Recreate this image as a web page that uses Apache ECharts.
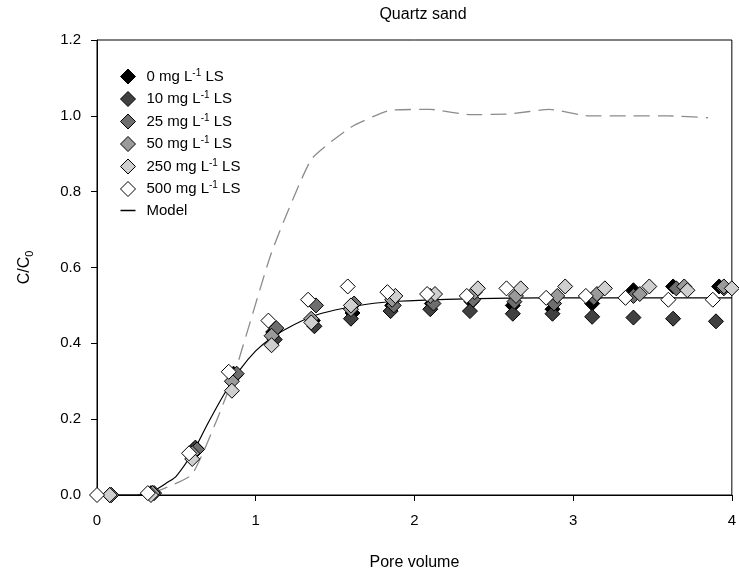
<!DOCTYPE html>
<html>
<head>
<meta charset="utf-8">
<script src="https://cdn.jsdelivr.net/npm/echarts@6/dist/echarts.min.js"></script>
<style>
  html, body { margin: 0; padding: 0; background: #fff; }
  #chart { width: 739px; height: 577px; }
</style>
</head>
<body>
<div id="chart"></div>
<script>
// Breakthrough curves of lignosulfonate (LS) in quartz sand, [pore volume, C/C0]
const ls0 = [[0.08,0],[0.34,0.005],[0.61,0.12],[0.86,0.32],[1.11,0.43],[1.36,0.46],[1.61,0.48],[1.86,0.50],[2.11,0.505],[2.36,0.51],[2.62,0.50],[2.87,0.49],[3.12,0.505],[3.38,0.54],[3.63,0.55],[3.92,0.55]];
const ls10 = [[0.08,0],[0.35,0.005],[0.62,0.125],[0.87,0.315],[1.12,0.41],[1.37,0.445],[1.60,0.465],[1.85,0.485],[2.10,0.49],[2.35,0.485],[2.62,0.478],[2.87,0.478],[3.12,0.47],[3.38,0.468],[3.63,0.465],[3.90,0.458]];
const ls25 = [[0.09,0],[0.36,0.005],[0.63,0.12],[0.88,0.32],[1.13,0.44],[1.38,0.50],[1.62,0.505],[1.87,0.50],[2.12,0.505],[2.37,0.515],[2.63,0.51],[2.88,0.505],[3.13,0.52],[3.38,0.525],[3.65,0.545],[3.95,0.545]];
const ls50 = [[0.09,0],[0.35,0.005],[0.60,0.11],[0.85,0.30],[1.10,0.42],[1.35,0.465],[1.60,0.49],[1.86,0.515],[2.10,0.525],[2.38,0.535],[2.64,0.525],[2.90,0.525],[3.15,0.53],[3.42,0.53],[3.70,0.55],[3.95,0.55]];
const ls250 = [[0.08,0],[0.34,0.0],[0.60,0.095],[0.85,0.275],[1.10,0.395],[1.35,0.455],[1.60,0.50],[1.88,0.525],[2.13,0.53],[2.40,0.545],[2.67,0.545],[2.95,0.55],[3.20,0.545],[3.48,0.55],[3.72,0.54],[4.00,0.545]];
const ls500 = [[0.00,0],[0.32,0.005],[0.58,0.11],[0.83,0.325],[1.08,0.46],[1.33,0.515],[1.58,0.55],[1.83,0.535],[2.08,0.53],[2.33,0.525],[2.58,0.545],[2.83,0.52],[3.08,0.525],[3.33,0.52],[3.60,0.515],[3.88,0.515]];

// Fitted model curve
const model = [[0,0],[0.25,0],[0.35,0.01],[0.45,0.035],[0.5,0.05],[0.6,0.11],[0.7,0.19],[0.8,0.265],[0.9,0.33],[1.0,0.38],[1.1,0.415],[1.2,0.44],[1.35,0.47],[1.5,0.488],[1.7,0.503],[1.9,0.511],[2.2,0.516],[2.6,0.519],[3.0,0.52],[4.0,0.52]];

// Conservative tracer (NaBr)
const tracer = [[0.35,0.005],[0.6,0.055],[0.85,0.30],[1.1,0.64],[1.35,0.885],[1.6,0.97],[1.85,1.015],[2.1,1.017],[2.35,1.003],[2.6,1.005],[2.85,1.017],[3.1,1.0],[3.35,1.0],[3.6,1.0],[3.85,0.995]];

const seriesNames = ['0 mg L-1 LS','10 mg L-1 LS','25 mg L-1 LS','50 mg L-1 LS','250 mg L-1 LS','500 mg L-1 LS'];
const seriesData = [ls0, ls10, ls25, ls50, ls250, ls500];
const fills = ['#000000','#404040','#6e6e6e','#9a9a9a','#cfcfcf','#ffffff'];
const xTicks = [0, 1, 2, 3, 4];
const yTicks = [0, 0.2, 0.4, 0.6, 0.8, 1.0, 1.2];

const FONT = '"Liberation Sans", Arial, sans-serif';

const scatterSeries = seriesData.map((d, i) => ({
  name: seriesNames[i],
  type: 'scatter',
  data: d,
  symbol: 'diamond',
  symbolSize: 15,
  itemStyle: { color: fills[i], borderColor: '#000', borderWidth: 1, opacity: 1 },
  z: 3 + i
}));

const chart = echarts.init(document.getElementById('chart'), null, { renderer: 'canvas' });

chart.setOption({
  animation: false,
  backgroundColor: '#fff',
  title: {
    text: 'Quartz sand',
    left: 418, top: 2, textAlign: 'center',
    textStyle: { fontFamily: FONT, fontSize: 16, fontWeight: 'normal', color: '#000' }
  },
  grid: {
    left: 97, right: 2, top: 40, bottom: 82,
    show: true, borderColor: '#000', borderWidth: 1, backgroundColor: 'transparent'
  },
  legend: {
    left: 115, top: 63, orient: 'vertical',
    itemWidth: 15, itemHeight: 15, itemGap: 6,
    symbolKeepAspect: true,
    data: seriesNames.map((n, i) => ({
      name: n, icon: 'diamond',
      itemStyle: { color: fills[i], borderColor: '#000', borderWidth: 1 }
    })).concat([{ name: 'Model', icon: 'path://M0,0 L12,0 L12,1.2 L0,1.2 Z', itemStyle: { color: '#000' } }]),
    formatter: function (name) {
      const m = name.match(/^(\d+ mg L)-1( LS)$/);
      if (m) return '{t|' + m[1] + '}{s|-1}{t|' + m[2] + '}';
      return '{t|' + name + '}';
    },
    textStyle: {
      fontFamily: FONT, fontSize: 15, color: '#000', padding: [0, 0, 0, 6],
      rich: {
        t: { fontFamily: FONT, fontSize: 15, color: '#000', height: 17 },
        s: { fontFamily: FONT, fontSize: 10, color: '#000', height: 17, padding: [0, 0, 7, 0] }
      }
    }
  },
  xAxis: {
    type: 'value', min: 0, max: 4, interval: 1,
    name: 'Pore volume', nameLocation: 'middle', nameGap: 60,
    nameTextStyle: { fontFamily: FONT, fontSize: 16, color: '#000' },
    axisLine: { show: true, onZero: false, lineStyle: { color: '#000', width: 1 } },
    axisTick: { show: true, inside: false, length: 6, lineStyle: { color: '#000' } },
    axisLabel: { fontFamily: FONT, fontSize: 15, color: '#000', margin: 18,
      formatter: v => (xTicks.includes(v) ? String(v) : '') },
    splitLine: { show: false }
  },
  yAxis: {
    type: 'value', min: 0, max: 1.2, interval: 0.2,
    name: '{t|C/C}{s|0}', nameLocation: 'middle', nameGap: 62, nameRotate: 90,
    nameTextStyle: {
      fontFamily: FONT, fontSize: 16, color: '#000',
      rich: {
        t: { fontFamily: FONT, fontSize: 16, color: '#000' },
        s: { fontFamily: FONT, fontSize: 11, color: '#000', padding: [9, 0, 0, 0] }
      }
    },
    axisLine: { show: true, onZero: false, lineStyle: { color: '#000', width: 1 } },
    axisTick: { show: true, inside: false, length: 6, lineStyle: { color: '#000' } },
    axisLabel: { fontFamily: FONT, fontSize: 15, color: '#000', margin: 16,
      formatter: v => yTicks.some(t => Math.abs(t - v) < 1e-9) ? v.toFixed(1) : '' },
    splitLine: { show: false }
  },
  series: [
    {
      name: 'Tracer NaBr',
      type: 'line',
      data: tracer,
      smooth: 0.15,
      showSymbol: false,
      symbol: 'none',
      lineStyle: { color: '#8c8c8c', width: 1.3, type: [16, 8] },
      z: 2,
      markPoint: {
        symbol: 'none',
        data: [{ coord: [3.55, 1.07] }],
        label: {
          show: true, formatter: 'Tracer NaBr', position: 'inside',
          fontFamily: FONT, fontSize: 15, color: '#000'
        }
      }
    },
    {
      name: 'Model',
      type: 'line',
      data: model,
      smooth: 0.3,
      showSymbol: false,
      symbol: 'none',
      lineStyle: { color: '#000', width: 1.2 },
      z: 2
    }
  ].concat(scatterSeries)
});
</script>
</body>
</html>
